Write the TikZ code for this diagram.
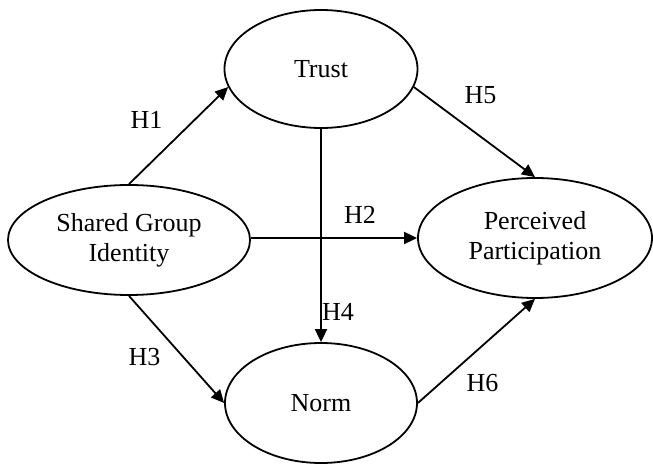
\documentclass[tikz,border=0pt]{standalone}
\usepackage{fontspec}
\setmainfont{Liberation Serif}
\usetikzlibrary{shapes.geometric, arrows.meta}
\tikzstyle{construct} = [ellipse, draw=black, line width=0.9pt, inner sep=0pt, text centered, align=center, font=\fontsize{13}{15}\selectfont]
\tikzstyle{arrow}     = [line width=0.9pt, -{Triangle[length=6.5pt,width=6pt]}]
\tikzstyle{hyp}       = [font=\fontsize{13}{15}\selectfont, inner sep=0pt]

\begin{document}
\begin{tikzpicture}[node distance=96pt]

    \useasboundingbox (-64.5pt,-112.5pt) rectangle (262pt,120pt);

    \node (sgi)   [construct, minimum width=121pt, minimum height=55pt]                       {Shared Group\\Identity};
    \node (trust) [construct, minimum width=96.5pt, minimum height=59pt, right of=sgi, yshift=85.5pt]  {Trust};
    \node (norm)  [construct, minimum width=96pt, minimum height=60pt, right of=sgi, yshift=-81.5pt]   {Norm};
    \node (pp)    [construct, minimum width=117pt, minimum height=60pt, right of=sgi, xshift=107pt, yshift=1pt] {Perceived\\Participation};

    \draw [arrow] (sgi.north) -- (trust.191) node[hyp, midway, xshift=-16pt, yshift=8pt] {H1};
    \draw [arrow] (sgi.east |- pp.west) -- (pp.west) node[hyp, midway, xshift=13pt, yshift=11.5pt] {H2};
    \draw [arrow] (sgi.south) -- (norm.west) node[hyp, midway, xshift=-16pt, yshift=-4pt] {H3};
    \draw [arrow] (trust.south) -- (norm.north) node[hyp, pos=0.86, xshift=8.5pt] {H4};
    \draw [arrow] (trust.349) -- (pp.north) node[hyp, midway, xshift=3pt, yshift=18.5pt] {H5};
    \draw [arrow] (norm.east) -- (pp.south) node[hyp, midway, xshift=3pt, yshift=-16pt] {H6};

\end{tikzpicture}
\end{document}
